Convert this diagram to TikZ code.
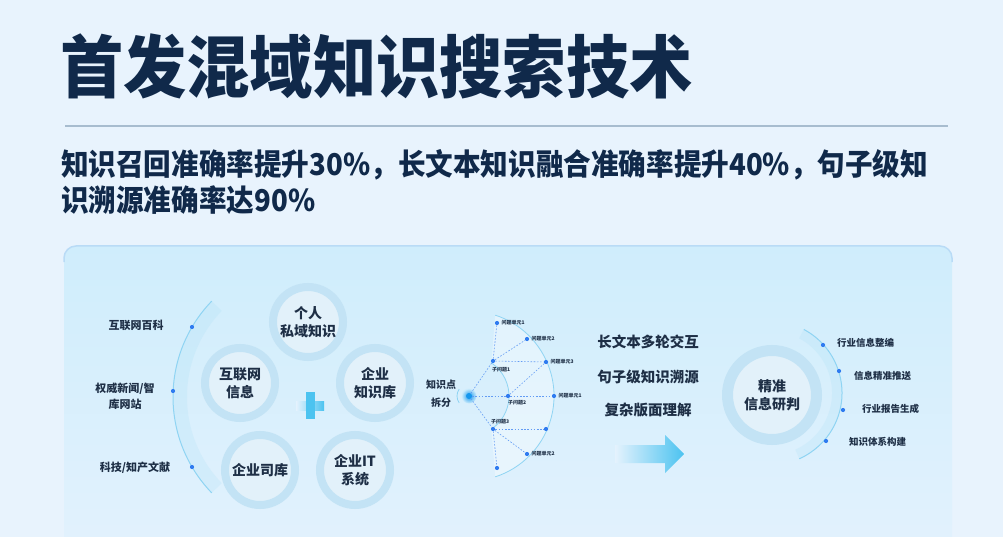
\documentclass[tikz,border=0pt]{standalone}
\usepackage{fontspec}
\setmainfont{Noto Sans CJK SC}
\usetikzlibrary{arrows.meta, positioning, calc}
\definecolor{bgBlue}{HTML}{E8F3FD}
\definecolor{panelTop}{HTML}{CFEDFC}
\definecolor{panelBot}{HTML}{E4F2FD}
\definecolor{panelEdge}{HTML}{B9DBF6}
\definecolor{ringBlue}{HTML}{C3E3F5}
\definecolor{innerBlue}{HTML}{E2F1FA}
\definecolor{titleNavy}{HTML}{10294A}
\definecolor{textNavy}{HTML}{1E2F46}
\definecolor{ruleGray}{HTML}{A7BCCF}
\definecolor{dotBlue}{HTML}{2F7BF0}
\definecolor{arcCyan}{HTML}{8FD4F3}
\definecolor{plusBlue}{HTML}{4CC3F0}
\definecolor{hubBlue}{HTML}{1597EE}

\tikzset{
  ringnode/.style={circle, draw=ringBlue, line width=8pt, fill=innerBlue,
    minimum size=70pt, inner sep=0pt, align=center, text=textNavy,
    font=\bfseries\fontsize{14}{18}\selectfont},
  bigring/.style={ringnode, line width=11pt, minimum size=89pt},
  dot/.style={circle, fill=dotBlue, inner sep=0pt, minimum size=4.2pt},
  link/.style={dotBlue!75, dash pattern=on 1.6pt off 1.6pt, line width=0.6pt},
  tinylabel/.style={font=\bfseries\fontsize{5}{6}\selectfont, text=textNavy, inner sep=1pt},
  sidelabel/.style={font=\bfseries\fontsize{11}{16}\selectfont, text=textNavy, align=center, inner sep=0pt},
  rightlabel/.style={font=\bfseries\fontsize{9.5}{12}\selectfont, text=textNavy, anchor=west, inner sep=0pt},
  featlabel/.style={font=\bfseries\fontsize{14.5}{18}\selectfont, text=textNavy, inner sep=0pt}
}

\begin{document}
\begin{tikzpicture}[x=1pt, y=-1pt]
  \useasboundingbox (0,0) rectangle (1003,537);
  \fill[bgBlue] (0,0) rectangle (1003,537);

  % heading and claim
  \node[anchor=west, inner sep=0pt, text=titleNavy, xscale=0.93,
        font=\bfseries\fontsize{68}{70}\selectfont] (title) at (60,66) {首发混域知识搜索技术};
  \draw[ruleGray, line width=2pt] (65,126) -- (948,126);
  \node[anchor=west, inner sep=0pt, text=titleNavy, xscale=0.92,
        font=\bfseries\fontsize{30}{35}\selectfont] (claimA) at (61,165)
        {知识召回准确率提升30\%，长文本知识融合准确率提升40\%，句子级知};
  \node[anchor=west, inner sep=0pt, text=titleNavy, xscale=0.92,
        font=\bfseries\fontsize{30}{35}\selectfont] (claimB) at (61,200)
        {识溯源准确率达90\%};

  % panel
  \shade[top color=panelTop, bottom color=panelBot, rounded corners=12pt]
    (64,246) rectangle (952,580);
  \draw[panelEdge, line width=1.5pt, rounded corners=12pt]
    (64,262) -- (64,246) -- (952,246) -- (952,262);

  % left sources: arc with dots
  \fill[arcCyan, opacity=0.14, shift={(311,397)}] (136:138)
    arc[start angle=136, end angle=224, radius=138] -- (224:124)
    arc[start angle=224, end angle=136, radius=124] -- cycle;
  \draw[arcCyan, line width=1pt, shift={(311,397)}] (136:138)
    arc[start angle=136, end angle=224, radius=138];
  \node[dot] (srcA) at (192,327) {};
  \node[dot] (srcB) at (173,391) {};
  \node[dot] (srcC) at (192,467) {};
  \node[sidelabel] (lblA) at (136,325) {互联网百科};
  \node[sidelabel] (lblB) at (125,396) {权威新闻/智\\库网站};
  \node[sidelabel] (lblC) at (135,468) {科技/知产文献};

  % knowledge circles
  \node[ringnode] (personal) at (308,322) {个人\\私域知识};
  \node[ringnode] (web)      at (240,383) {互联网\\信息};
  \node[ringnode] (kbase)    at (375,383) {企业\\知识库};
  \node[ringnode] (treasury) at (260,470) {企业司库};
  \node[ringnode] (itsys)    at (355,470) {企业IT\\系统};
  % plus
  \shade[left color=panelBot, right color=plusBlue] (296,401) rectangle (324,410);
  \fill[plusBlue] (306,392) rectangle (315,419);

  % knowledge point split
  \node[font=\bfseries\fontsize{10}{18}\selectfont, text=textNavy, align=center,
        inner sep=0pt] (split) at (441,394) {知识点\\拆分};
  \fill[white, opacity=0.35, shift={(469,396)}] (-72:85)
    arc[start angle=-72, end angle=72, radius=85] -- (56:40)
    arc[start angle=56, end angle=-56, radius=40] -- cycle;
  \draw[arcCyan, line width=0.8pt, shift={(469,396)}] (-72:85)
    arc[start angle=-72, end angle=72, radius=85];
  \draw[arcCyan, line width=0.8pt, shift={(469,396)}] (-56:40)
    arc[start angle=-56, end angle=56, radius=40];
  \draw[arcCyan, line width=0.8pt, shift={(469,396)}] (145:12)
    arc[start angle=145, end angle=215, radius=12];
  \shade[inner color=hubBlue, outer color=panelTop] (469,396) circle (7.5);
  \node[circle, fill=hubBlue, inner sep=0pt, minimum size=6pt] (hub) at (469,396) {};

  \node[dot] (sub1) at (493,361) {};
  \node[dot] (sub2) at (508,396) {};
  \node[dot] (sub3) at (493,429) {};
  \node[dot] (unit1) at (497,323) {};
  \node[dot] (unit2) at (527,339) {};
  \node[dot] (unit3) at (546,362) {};
  \node[dot] (unit4) at (554,396) {};
  \node[dot] (unit5) at (546,429) {};
  \node[dot] (unit6) at (527,454) {};
  \node[dot] (unit7) at (497,468) {};

  \foreach \a/\b in {hub/sub1, hub/sub2, hub/sub3, sub2/unit4, sub1/unit1,
                     sub1/unit2, sub1/unit3, sub2/unit3, sub3/unit5,
                     sub3/unit6, sub3/unit7}
    \draw[link] (\a) -- (\b);

  \node[tinylabel, right=1pt of unit1] {问题单元1};
  \node[tinylabel, right=1pt of unit2] {问题单元2};
  \node[tinylabel, right=1pt of unit3] {问题单元3};
  \node[tinylabel, right=1pt of unit4] {问题单元1};
  \node[tinylabel, right=1pt of unit6] {问题单元2};
  \node[tinylabel, anchor=north west] at (491,366) {子问题1};
  \node[tinylabel, anchor=north west] at (507,399) {子问题2};
  \node[tinylabel, anchor=south west] at (490,425) {子问题3};

  % capabilities
  \node[featlabel] (multi) at (648,342) {长文本多轮交互};
  \node[featlabel] (trace) at (648,377) {句子级知识溯源};
  \node[featlabel] (layout) at (648,410) {复杂版面理解};
  \shade[left color=panelBot, right color=plusBlue]
    (615,445) -- (665,445) -- (665,435) -- (684,454) -- (665,473)
    -- (665,463) -- (615,463) -- cycle;

  % result
  \node[bigring] (result) at (772,395) {精准\\信息研判};
  \fill[arcCyan, opacity=0.14, shift={(770,393)}] (-62:72)
    arc[start angle=-62, end angle=66, radius=72] -- (66:62)
    arc[start angle=66, end angle=-62, radius=62] -- cycle;
  \draw[arcCyan, line width=1pt, shift={(770,393)}] (-62:72)
    arc[start angle=-62, end angle=66, radius=72];
  \node[dot] (useA) at (823,345) {};
  \node[dot] (useB) at (839,371) {};
  \node[dot] (useC) at (843,410) {};
  \node[dot] (useD) at (826,441) {};
  \node[rightlabel] at (837,343) {行业信息整编};
  \node[rightlabel] at (854,376) {信息精准推送};
  \node[rightlabel] at (862,409) {行业报告生成};
  \node[rightlabel] at (849,442) {知识体系构建};
\end{tikzpicture}
\end{document}
